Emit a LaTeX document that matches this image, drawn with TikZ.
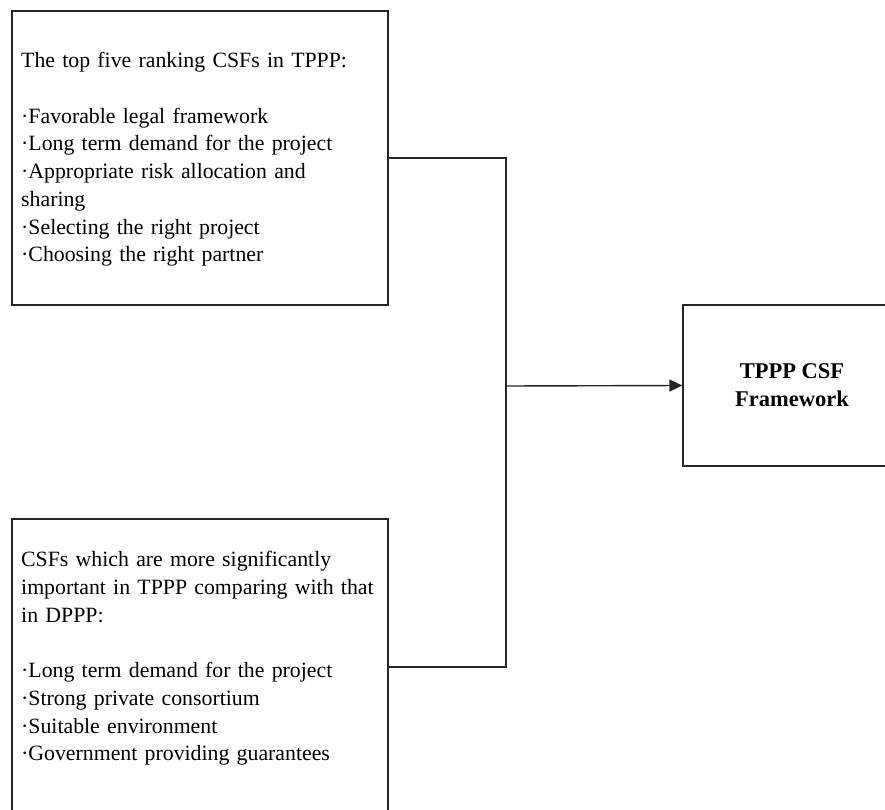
\documentclass[tikz,border=0pt]{standalone}
\usepackage{fontspec}
\setmainfont{Liberation Serif}
\usetikzlibrary{arrows.meta}
\begin{document}
\begin{tikzpicture}[x=1pt,y=-1pt,
  frame/.style={draw=black!85, line width=1.3pt, inner sep=0pt},
  txt/.style={inner sep=0pt, text width=366pt, align=left, anchor=west,
    font=\fontsize{21.8}{27.7}\selectfont},
  conn/.style={draw=black!85, line width=1.4pt}]
\useasboundingbox (0,0) rectangle (885,810);
\clip (0,0) rectangle (885,810);
\node[frame, minimum width=376pt, minimum height=294pt] (top) at (200,158) {};
\node[txt] (toptext) at (21,159.5) {The top five ranking CSFs in TPPP:\\[27.7pt]
·Favorable legal framework\\
·Long term demand for the project\\
·Appropriate risk allocation and\\
sharing\\
·Selecting the right project\\
·Choosing the right partner};
\node[frame, minimum width=376pt, minimum height=296pt] (bot) at (200,667) {};
\node[txt] (bottext) at (21,658.5) {CSFs which are more significantly\\
important in TPPP comparing with that\\
in DPPP:\\[27.7pt]
·Long term demand for the project\\
·Strong private consortium\\
·Suitable environment\\
·Government providing guarantees};
\node[frame, minimum width=218pt, minimum height=161pt, align=center,
  font=\fontsize{22.5}{28}\selectfont\bfseries] (fw) at (792,385.5) {TPPP CSF\\Framework};
\coordinate (j) at (506,386);
\draw[conn] (top.east) -| (j);
\draw[conn] (bot.east) -| (j);
\draw[conn, -{Triangle[length=13pt,width=12pt]}] (j) -- (fw.west);
\end{tikzpicture}
\end{document}
